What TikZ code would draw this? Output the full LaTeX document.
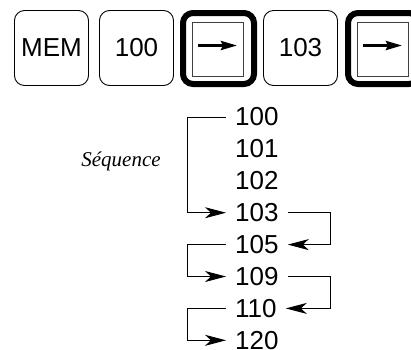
\documentclass[tikz,border=0pt]{standalone}
\usepackage{fontspec}
\setmainfont{Liberation Sans}
\newfontfamily\seqfont{Liberation Serif}
\usetikzlibrary{arrows.meta}

\begin{document}
\begin{tikzpicture}[
    x=1pt, y=-1pt,
    >={Stealth[length=21pt, width=11pt, inset=6pt]},
    keycap/.style={rectangle, draw=black, rounded corners=10pt, minimum width=74pt, minimum height=75pt, line width=0.9pt, inner sep=0pt, font=\fontsize{26}{30}\selectfont},
    seqkey/.style={rectangle, draw=black, rounded corners=10pt, minimum size=71pt, line width=6pt, inner sep=0pt},
    seqface/.style={rectangle, draw=black!75, minimum width=51pt, minimum height=54pt, line width=0.9pt, inner sep=0pt},
    keyarrow/.style={line width=3pt, -{Stealth[length=16pt, width=9pt, inset=2pt]}},
    addr/.style={anchor=west, inner xsep=9pt, inner ysep=0pt, font=\fontsize{26}{30}\selectfont},
    jump/.style={->, line width=0.9pt}
]
\useasboundingbox (0,0) rectangle (411,349);

% Key row
\node[keycap] (mem) at (51.5, 48) {MEM};
\node[keycap] (k100) at (136.5, 48) {100};
\node[seqkey] (run1) at (218.5, 48.5) {};
\node[seqface] (face1) at (218, 49.5) {};
\node[keycap] (k103) at (300.5, 48) {103};
\node[seqkey] (run2) at (383.5, 48.5) {};
\node[seqface] (face2) at (383, 49.5) {};

\draw[keyarrow] ([xshift=-20pt, yshift=4pt]face1.center) -- ([xshift=19pt, yshift=4pt]face1.center);
\draw[keyarrow] ([xshift=-20pt, yshift=4pt]face2.center) -- ([xshift=19pt, yshift=4pt]face2.center);

% Address list
\node[font=\seqfont\itshape\fontsize{21}{25}\selectfont] (seq) at (121, 161) {Séquence};
\foreach \a [count=\i from 0] in {100,101,102,103,105,109,110,120}
    \node[addr] (a\a) at (226, 117+31.9*\i) {\a};

% Jumps
\draw[jump] (a100.west) -- ++(-39,0) |- (a103.west);
\draw[jump] (a103.east) -- ++(43,0) |- (a105.east);
\draw[jump] (a105.west) -- ++(-39,0) |- (a109.west);
\draw[jump] (a109.east) -- ++(43,0) |- (a110.east);
\draw[jump] (a110.west) -- ++(-39,0) |- (a120.west);

\end{tikzpicture}
\end{document}
